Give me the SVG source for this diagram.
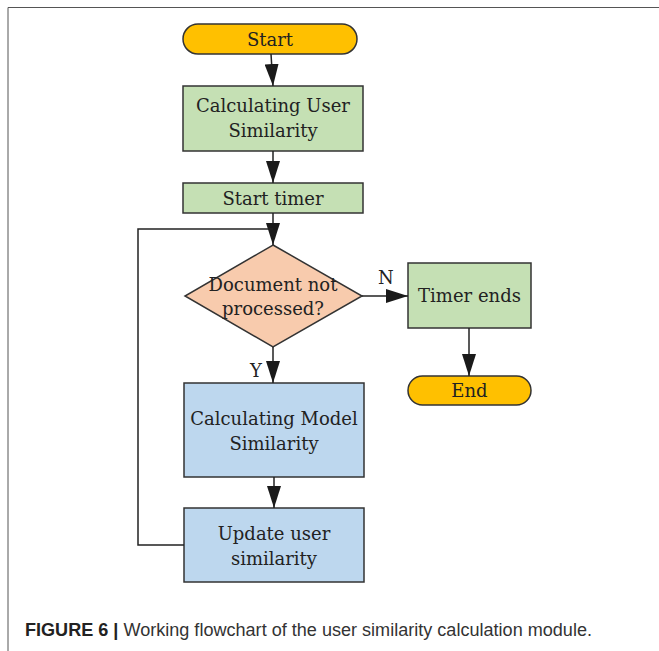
<svg xmlns="http://www.w3.org/2000/svg" width="659" height="651" viewBox="0 0 659 651">
<defs>
<marker id="ah" markerWidth="22" markerHeight="14" refX="22" refY="7" orient="auto" markerUnits="userSpaceOnUse">
<path d="M0,0 L22,7 L0,14 Z" fill="#1a1a1a"/>
</marker>
</defs>
<style>
.box{stroke:#333;stroke-width:1.5}
.term{fill:#FFC000}
.green{fill:#C5E0B4}
.blue{fill:#BDD7EE}
.dia{fill:#F8CBAD}
.t{font-family:"DejaVu Serif","Liberation Serif",serif;font-size:18px;fill:#222;text-anchor:middle}
.c{stroke:#222;stroke-width:1.5;fill:none}
.lbl{font-family:"DejaVu Serif","Liberation Serif",serif;font-size:18px;fill:#222}
</style>
<rect width="659" height="651" fill="#fff"/>
<path d="M8,651 V7.5 H659" fill="none" stroke="#555" stroke-width="1"/>
<g id="start"><rect class="box term" x="183" y="24" width="174" height="30" rx="15"/><text class="t" x="270" y="45.5">Start</text></g>
<g id="calcUser"><rect class="box green" x="183" y="86" width="180" height="65"/><text class="t" x="273" y="112">Calculating User</text><text class="t" x="273" y="137">Similarity</text></g>
<g id="timer"><rect class="box green" x="183" y="183" width="180" height="30"/><text class="t" x="273" y="204.5">Start timer</text></g>
<g id="decision"><polygon class="box dia" points="273,245 362,296 273,347 185,296"/><text class="t" x="273" y="291">Document not</text><text class="t" x="273" y="315">processed?</text></g>
<g id="timerEnds"><rect class="box green" x="408" y="263" width="123" height="65"/><text class="t" x="469.5" y="302">Timer ends</text></g>
<g id="end"><rect class="box term" x="408" y="376" width="123" height="29" rx="14.5"/><text class="t" x="469.5" y="397">End</text></g>
<g id="calcModel"><rect class="box blue" x="184" y="383" width="180" height="94"/><text class="t" x="274" y="425">Calculating Model</text><text class="t" x="274" y="450">Similarity</text></g>
<g id="update"><rect class="box blue" x="184" y="508" width="180" height="74"/><text class="t" x="274" y="540">Update user</text><text class="t" x="274" y="565">similarity</text></g>
<g id="connectors">
<line class="c" x1="271" y1="54" x2="273" y2="86" marker-end="url(#ah)"/>
<line class="c" x1="273" y1="151" x2="273" y2="183" marker-end="url(#ah)"/>
<line class="c" x1="273" y1="213" x2="273" y2="245" marker-end="url(#ah)"/>
<polyline class="c" points="184,545 138,545 138,229 273,229"/>
<line class="c" x1="362" y1="296" x2="408" y2="296" marker-end="url(#ah)"/>
<line class="c" x1="273" y1="347" x2="273" y2="383" marker-end="url(#ah)"/>
<line class="c" x1="469" y1="328" x2="469" y2="376" marker-end="url(#ah)"/>
<line class="c" x1="274" y1="477" x2="274" y2="508" marker-end="url(#ah)"/>
<text class="lbl" x="378" y="284">N</text>
<text class="lbl" x="250" y="377">Y</text>
</g>
<text x="25" y="636" font-family="'Liberation Sans',Arial,sans-serif" font-size="17.5" fill="#333" textLength="567" lengthAdjust="spacingAndGlyphs"><tspan font-weight="bold" fill="#222">FIGURE 6 |</tspan> Working flowchart of the user similarity calculation module.</text>
</svg>
